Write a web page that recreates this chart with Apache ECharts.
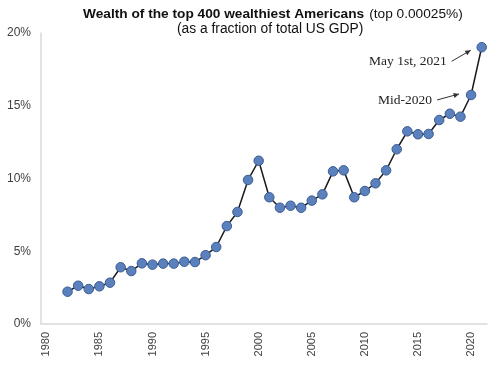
<!DOCTYPE html>
<html>
<head>
<meta charset="utf-8">
<script src="https://cdn.jsdelivr.net/npm/echarts@6/dist/echarts.min.js"></script>
<style>
html,body{margin:0;padding:0;background:#fff;}
#c{width:500px;height:367px;}
</style>
</head>
<body>
<div id="c"></div>
<script>
// ---- data ----
const years = [];
for (let y = 1980; y <= 2021; y++) years.push(String(y));
const wealthPct = [
  null, null,
  2.22, 2.63, 2.40, 2.59, 2.84, 3.90, 3.64, 4.17, 4.08, 4.15, 4.15, 4.28, 4.26,
  4.73, 5.29, 6.73, 7.70, 9.90, 11.22, 8.71, 7.99, 8.13, 7.99, 8.48, 8.91,
  10.49, 10.56, 8.71, 9.14, 9.67, 10.56, 12.01, 13.24, 13.04, 13.06, 14.02,
  14.45, 14.25, 15.74, 19.02
];
const yTicks = [0, 5, 10, 15, 20];
const titleBold = 'Wealth of the top 400 wealthiest Americans';
const titleNormal = '(top 0.00025%)';
const subtitle = '(as a fraction of total US GDP)';
const notes = [
  { year: '2021', text: 'May 1st, 2021' },
  { year: '2020', text: 'Mid-2020' }
];

const chart = echarts.init(document.getElementById('c'));
const option = {
  animation: false,
  backgroundColor: '#fff',
  title: [
    {
      text: '{b|' + titleBold + '} {n|' + titleNormal + '}',
      left: 83, top: 5, padding: 0,
      textStyle: {
        rich: {
          b: { fontFamily: 'Liberation Sans, Arial', fontWeight: 'bold', fontSize: 13.7, color: '#111' },
          n: { fontFamily: 'Liberation Sans, Arial', fontWeight: 'normal', fontSize: 13.7, color: '#111' }
        }
      }
    },
    {
      text: subtitle,
      left: 177, top: 22, padding: 0,
      textStyle: { fontFamily: 'Liberation Sans, Arial', fontWeight: 'normal', fontSize: 13.8, color: '#111' }
    }
  ],
  grid: { left: 41, right: 13, top: 33, bottom: 43, containLabel: false },
  xAxis: {
    type: 'category',
    data: years,
    boundaryGap: true,
    axisLine: { show: true, lineStyle: { color: '#d9d9d9', width: 1.5 } },
    axisTick: { show: false },
    axisLabel: {
      rotate: 90,
      interval: function (i) { return i % 5 === 0; },
      fontFamily: 'Liberation Sans, Arial',
      fontSize: 11,
      color: '#404040',
      margin: 8
    },
    splitLine: { show: false }
  },
  yAxis: {
    type: 'value',
    min: yTicks[0], max: yTicks[yTicks.length - 1], interval: 5,
    axisLine: { show: true, lineStyle: { color: '#d9d9d9', width: 1.5 } },
    axisTick: { show: false },
    splitLine: { show: false },
    axisLabel: {
      formatter: '{value}%',
      fontFamily: 'Liberation Sans, Arial',
      fontSize: 12,
      color: '#404040',
      margin: 10
    }
  },
  series: [{
    type: 'line',
    data: wealthPct,
    connectNulls: false,
    showAllSymbol: true,
    symbol: 'circle',
    symbolSize: 9.5,
    lineStyle: { color: '#1a1a1a', width: 1.5 },
    itemStyle: { color: '#5b80be', borderColor: '#3a5c91', borderWidth: 1 },
    z: 3
  }]
};
chart.setOption(option);

// annotations anchored to data points
const graphics = [];
const arrowCfg = [
  { dx1: -30, dy1: 14, dx2: -11, dy2: 3 },
  { dx1: -34, dy1: 5, dx2: -12, dy2: -1 }
];
notes.forEach(function (n, k) {
  const idx = years.indexOf(n.year);
  const p = chart.convertToPixel({ seriesIndex: 0 }, [idx, wealthPct[idx]]);
  const a = arrowCfg[k];
  const x1 = p[0] + a.dx1, y1 = p[1] + a.dy1, x2 = p[0] + a.dx2, y2 = p[1] + a.dy2;
  const ang = Math.atan2(y2 - y1, x2 - x1);
  const hl = 6, hw = 0.45;
  graphics.push({
    type: 'line', shape: { x1: x1, y1: y1, x2: x2, y2: y2 },
    style: { stroke: '#333', lineWidth: 1 }, silent: true
  });
  graphics.push({
    type: 'polygon',
    shape: { points: [
      [x2, y2],
      [x2 - hl * Math.cos(ang - hw), y2 - hl * Math.sin(ang - hw)],
      [x2 - hl * Math.cos(ang + hw), y2 - hl * Math.sin(ang + hw)]
    ] },
    style: { fill: '#333' }, silent: true
  });
  graphics.push({
    type: 'text',
    style: {
      text: n.text, x: x1 - 5, y: y1, align: 'right', verticalAlign: 'middle',
      font: '13.5px "Liberation Serif", "Times New Roman", serif', fill: '#222'
    },
    silent: true
  });
});
chart.setOption({ graphic: graphics });
</script>
</body>
</html>
